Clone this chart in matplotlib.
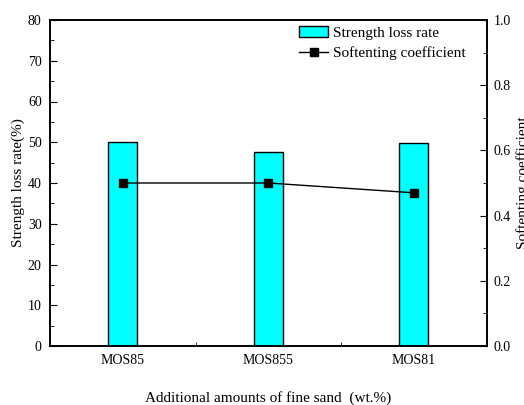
import matplotlib
matplotlib.use('Agg')
import matplotlib.pyplot as plt
from matplotlib.ticker import MultipleLocator, FixedLocator
import numpy as np

# data
samples = ['MOS85', 'MOS855', 'MOS81']
loss_rate = [50.0, 47.7, 49.7]          # %
soft_coef = [0.50, 0.50, 0.47]

plt.rcParams['font.family'] = 'Liberation Serif'
plt.rcParams['font.size'] = 11

fig = plt.figure(figsize=(5.24, 4.05), dpi=100)
ax = fig.add_axes([50 / 524, 1 - 346 / 405, 436.5 / 524, 326 / 405])
x = np.arange(len(samples))

bars = ax.bar(x, loss_rate, width=0.2, color='#00FFFF', edgecolor='black',
              linewidth=1, label='Strength loss rate', zorder=2)
ax.set_xlim(-0.5, 2.5)
ax.set_ylim(0, 80)
ax.set_xticks(x)
ax.set_xticklabels(samples)
ax.xaxis.set_minor_locator(FixedLocator([0.5, 1.5]))
ax.yaxis.set_major_locator(MultipleLocator(10))
ax.yaxis.set_minor_locator(MultipleLocator(5))
ax.tick_params(direction='in', which='both', top=False, right=False)
ax.tick_params(which='major', length=5, labelsize=10, pad=6)
ax.tick_params(which='minor', length=3)
ax.set_ylabel('Strength loss rate(%)', fontsize=11, labelpad=2)
ax.set_xlabel('Additional amounts of fine sand  (wt.%)', fontsize=11, labelpad=17)

ax2 = ax.twinx()
line, = ax2.plot(x, soft_coef, color='black', marker='s', markersize=6,
                 linewidth=1, label='Softenting coefficient')
ax2.set_ylim(0, 1.0)
ax2.yaxis.set_major_locator(MultipleLocator(0.2))
ax2.yaxis.set_minor_locator(MultipleLocator(0.1))
ax2.yaxis.set_major_formatter(plt.FormatStrFormatter('%.1f'))
ax2.tick_params(direction='in', which='both')
ax2.tick_params(which='major', length=5, labelsize=10, pad=5)
ax2.tick_params(which='minor', length=3)
ax2.set_ylabel('Softenting coefficient', fontsize=11, labelpad=4)

for a in (ax, ax2):
    for s in a.spines.values():
        s.set_linewidth(1.2)

ax2.legend([bars, line], ['Strength loss rate', 'Softenting coefficient'],
           loc='upper right', bbox_to_anchor=(0.966, 1.0), frameon=False,
           fontsize=11, borderaxespad=0.0, handlelength=1.9,
           handletextpad=0.3, labelspacing=0.45)

fig.savefig('out.png', dpi=100)
